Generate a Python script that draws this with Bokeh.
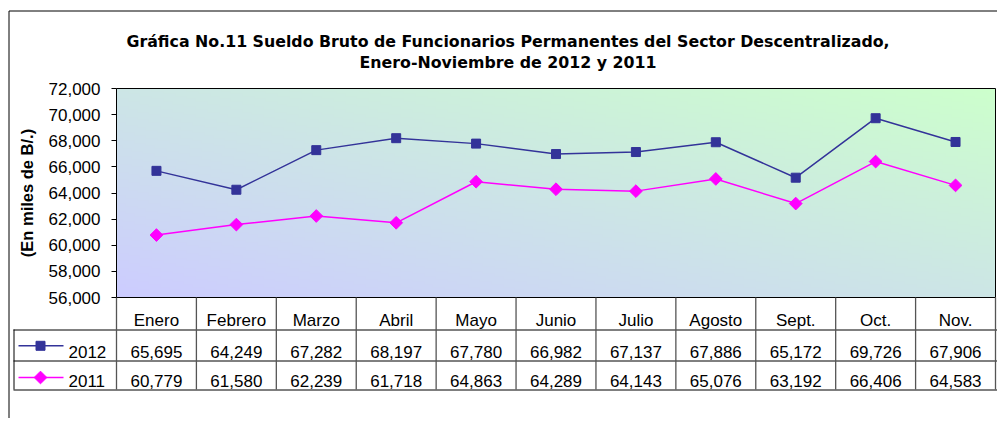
import numpy as np
from bokeh.plotting import figure
from bokeh.models import Range1d, LinearAxis, FixedTicker, NumeralTickFormatter
from bokeh.core.properties import value
from bokeh.embed import file_html
from bokeh.resources import INLINE

# ---------------- data ----------------
months = ["Enero", "Febrero", "Marzo", "Abril", "Mayo", "Junio", "Julio",
          "Agosto", "Sept.", "Oct.", "Nov."]
s2012 = [65695, 64249, 67282, 68197, 67780, 66982, 67137, 67886, 65172, 69726, 67906]
s2011 = [60779, 61580, 62239, 61718, 64863, 64289, 64143, 65076, 63192, 66406, 64583]
series_names = ["2012", "2011"]
y_ticks = [56000, 58000, 60000, 62000, 64000, 66000, 68000, 70000, 72000]
title_lines = ["Gráfica No.11 Sueldo Bruto de Funcionarios Permanentes del Sector Descentralizado,",
               "Enero-Noviembre de 2012 y 2011"]
y_label = "(En miles de B/.)"

# ---------------- layout (canvas pixels) ----------------
W, H = 997, 418
PL, PR, PT, PB = 116, 995, 88, 297          # plot area
Y0, Y1 = y_ticks[0], y_ticks[-1]
X0, X1 = -0.5, len(months) - 0.5
xs = (X1 - X0) / (PR - PL)
ys = (Y1 - Y0) / (PB - PT)

FNAME = "Liberation Sans"
FONT = value(FNAME)
TFONT = value("DejaVu Sans")
C2012 = "#333399"
C2011 = "#FF00FF"

p = figure(width=W, height=H, output_backend="svg", toolbar_location=None,
           x_range=Range1d(X0 - PL * xs, X1 + (W - PR) * xs),
           y_range=Range1d(Y0 - (H - PB) * ys, Y1 + PT * ys),
           x_axis_location=None, y_axis_location=None,
           min_border=0, outline_line_color=None,
           background_fill_color="white", border_fill_color="white")
p.grid.visible = False
p.extra_x_ranges = {"px": Range1d(0, W)}
p.extra_y_ranges = {"py": Range1d(H, 0)}

# ---------------- gradient plot-area background ----------------
ny, nx = 80, 300
u = np.linspace(0, 1, nx)[None, :]
v = np.linspace(0, 1, ny)[:, None]
t = (u + v) / 2.0
img = np.empty((ny, nx), dtype=np.uint32)
view = img.view(dtype=np.uint8).reshape((ny, nx, 4))
view[..., 0] = 204
view[..., 1] = np.round(204 + 51 * t).astype(np.uint8)
view[..., 2] = np.round(255 - 51 * t).astype(np.uint8)
view[..., 3] = 255
p.image_rgba(image=[img], x=X0, y=Y0, dw=X1 - X0, dh=Y1 - Y0)
p.quad(left=X0, right=X1, bottom=Y0, top=Y1, fill_color=None,
       line_color="black", line_width=1)

# ---------------- y axis ----------------
ax = LinearAxis(fixed_location=X0, bounds=(Y0, Y1),
                ticker=FixedTicker(ticks=y_ticks),
                formatter=NumeralTickFormatter(format="0,0"),
                axis_line_color=None, major_tick_in=0, major_tick_out=5,
                major_tick_line_color="black", minor_tick_line_color=None,
                major_label_standoff=11,
                major_label_text_font=FNAME, major_label_text_font_size="17px",
                major_label_text_color="black",
                axis_label=y_label, axis_label_text_font=FNAME,
                axis_label_text_font_size="16.5px", axis_label_text_font_style="bold",
                axis_label_text_color="black", axis_label_standoff=10)
p.add_layout(ax, "left")

# ---------------- series ----------------
idx = list(range(len(months)))
p.line(idx, s2012, line_color=C2012, line_width=1.5)
p.scatter(idx, s2012, marker="square", size=9, fill_color=C2012, line_color=C2012)
p.line(idx, s2011, line_color=C2011, line_width=1.5)
p.scatter(idx, s2011, marker="square", angle=np.pi / 4, size=9,
          fill_color=C2011, line_color=C2011)

# ---------------- outer chart border (left & top) ----------------
p.segment(x0=[8.5, 8.5], y0=[10.5, 10.5], x1=[8.5, W], y1=[H, 10.5],
          line_color="black", line_width=1, x_range_name="px", y_range_name="py")

# ---------------- title ----------------
p.text(x=[507.5, 507.5], y=[40.7, 62.3], text=title_lines,
       text_font=TFONT, text_font_size="15.8px", text_font_style="bold",
       text_align="center", text_baseline="alphabetic", text_color="black",
       x_range_name="px", y_range_name="py")

# ---------------- data table ----------------
R0, R1, R2, R3 = PB, 329, 360, 389   # row boundaries
LX = 13                               # left edge of legend column
p.segment(x0=[LX, LX, LX], y0=[R1 + 0.5, R2 + 0.5, R3 + 0.5],
          x1=[W, W, W], y1=[R1 + 0.5, R2 + 0.5, R3 + 0.5],
          line_color="black", line_width=1, x_range_name="px", y_range_name="py")
p.segment(x0=[LX + 0.5], y0=[R1], x1=[LX + 0.5], y1=[R3],
          line_color="black", line_width=1, x_range_name="px", y_range_name="py")
# column separators (in category units)
sep = [X0 + k for k in range(len(months) + 1)]
p.segment(x0=sep, y0=[R0] * len(sep), x1=sep, y1=[R3] * len(sep),
          line_color="#555555", line_width=1.3, y_range_name="py")

p.text(x=idx, y=[319.5] * len(idx), text=months, text_font=FONT,
       text_font_size="17px", text_align="center", text_baseline="alphabetic",
       text_color="black", y_range_name="py")
p.text(x=idx, y=[351.7] * len(idx), text=[f"{v:,}" for v in s2012], text_font=FONT,
       text_font_size="17px", text_align="center", text_baseline="alphabetic",
       text_color="black", y_range_name="py")
p.text(x=idx, y=[380.7] * len(idx), text=[f"{v:,}" for v in s2011], text_font=FONT,
       text_font_size="17px", text_align="center", text_baseline="alphabetic",
       text_color="black", y_range_name="py")

# legend keys inside the table
p.segment(x0=[18, 18], y0=[345.3, 377], x1=[63, 63], y1=[345.3, 377],
          line_color=[C2012, C2011], line_width=1.5, x_range_name="px", y_range_name="py")
p.scatter(x=[40], y=[345.3], marker="square", size=9, fill_color=C2012,
          line_color=C2012, x_range_name="px", y_range_name="py")
p.scatter(x=[40], y=[377], marker="square", angle=np.pi / 4, size=9,
          fill_color=C2011, line_color=C2011, x_range_name="px", y_range_name="py")
p.text(x=[68, 68], y=[351.7, 380.7], text=series_names, text_font=FONT,
       text_font_size="17px", text_align="left", text_baseline="alphabetic",
       text_color="black", x_range_name="px", y_range_name="py")

open("out.html", "w").write(file_html(p, INLINE))
